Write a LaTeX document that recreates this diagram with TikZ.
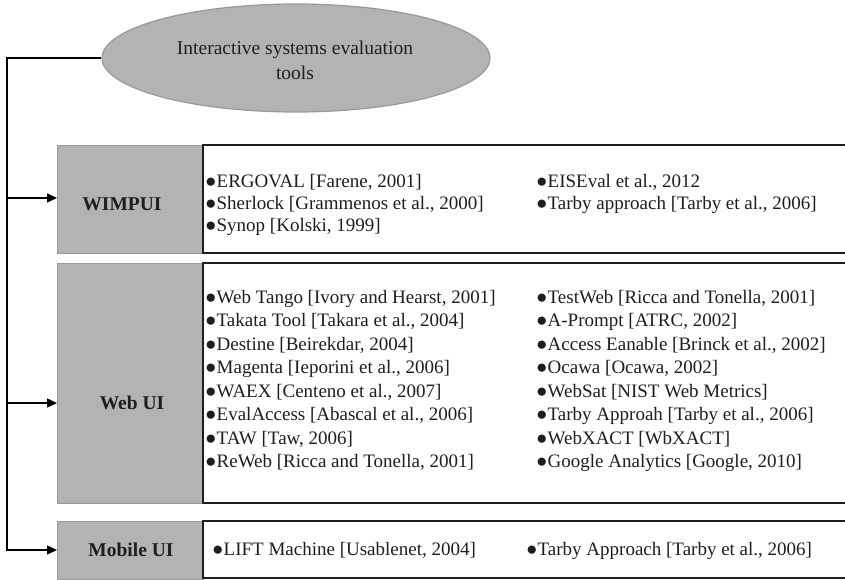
\documentclass[tikz,border=0pt]{standalone}
\usepackage{fontspec}
\setmainfont{Liberation Serif}
\usetikzlibrary{arrows.meta,shapes.geometric}
\definecolor{boxgray}{HTML}{B3B3B3}
\definecolor{edgegray}{HTML}{9A9A9A}
\definecolor{ink}{HTML}{1E1E1E}
\begin{document}
\begin{tikzpicture}[x=1pt,y=-1pt,
  item/.style={anchor=base west, inner sep=0pt, font=\fontsize{19}{22}\selectfont, text=ink},
  cat/.style={font=\fontsize{19.5}{22}\selectfont\bfseries, text=ink, inner sep=0pt},
  graybox/.style={draw=edgegray, fill=boxgray, line width=1.2pt, inner sep=0pt, anchor=north west},
  whitebox/.style={draw=ink, line width=1.6pt},
  conn/.style={draw=black, line width=1.5pt, line join=miter},
  tip/.style={-{Triangle[length=10pt,width=9pt]}}]
\useasboundingbox (0,0) rectangle (845,580);
\clip (0,0) rectangle (845,580);

% root ellipse
\node[ellipse, draw=edgegray, fill=boxgray, line width=1.2pt, minimum width=388pt, minimum height=108pt] (root) at (296,58) {};
\node[align=center, font=\fontsize{19.5}{25}\selectfont, text=ink, inner sep=0pt] (roottext) at (295,60) {Interactive systems evaluation\\tools};

% category boxes
\node[graybox, minimum width=146pt, minimum height=108pt] (wimp) at (57,145) {};
\node[graybox, minimum width=146pt, minimum height=240pt] (web) at (57,263) {};
\node[graybox, minimum width=146pt, minimum height=58pt] (mob) at (57,521) {};
\draw[whitebox] (203,145) rectangle (880,253);
\draw[whitebox] (203,263) rectangle (880,503);
\draw[whitebox] (203,521) rectangle (880,578);

\node[cat] (wimpl) at (122,204) {WIMPUI};
\node[cat] (webl) at (132,403) {Web UI};
\node[cat] (mobl) at (131,550) {Mobile UI};

% connectors
\coordinate (trunk) at (7,58);
\coordinate (aw) at (57,198);
\coordinate (aweb) at (57,403);
\coordinate (amob) at (57,550);
\draw[conn,tip] (root.west) -- (trunk) |- (amob);
\draw[conn,tip] (trunk |- aw) -- (aw);
\draw[conn,tip] (trunk |- aweb) -- (aweb);

% WIMPUI items
\foreach \t [count=\i] in {ERGOVAL [Farene{,} 2001], Sherlock [Grammenos et al.{,} 2000], Synop [Kolski{,} 1999]}
  \node[item] (wl\i) at (205,{181+22*(\i-1)+6}) {●\t};
\foreach \t [count=\i] in {EISEval et al.{,} 2012, Tarby approach [Tarby et al.{,} 2006]}
  \node[item] (wr\i) at (536,{181+22*(\i-1)+6}) {●\t};

% Web UI items
\foreach \t [count=\i] in {Web Tango [Ivory and Hearst{,} 2001], Takata Tool [Takara et al.{,} 2004], Destine [Beirekdar{,} 2004], Magenta [Ieporini et al.{,} 2006], WAEX [Centeno et al.{,} 2007], EvalAccess [Abascal et al.{,} 2006], TAW [Taw{,} 2006], ReWeb [Ricca and Tonella{,} 2001]}
  \node[item] (bl\i) at (205,{297+23.5*(\i-1)+6}) {●\t};
\foreach \t [count=\i] in {TestWeb [Ricca and Tonella{,} 2001], A-Prompt [ATRC{,} 2002], Access Eanable [Brinck et al.{,} 2002], Ocawa [Ocawa{,} 2002], WebSat [NIST Web Metrics], Tarby Approah [Tarby et al.{,} 2006], WebXACT [WbXACT], Google Analytics [Google{,} 2010]}
  \node[item] (br\i) at (536,{297+23.5*(\i-1)+6}) {●\t};

% Mobile UI items
\node[item] (ml1) at (212,555) {●LIFT Machine [Usablenet, 2004]};
\node[item] (mr1) at (526,555) {●Tarby Approach [Tarby et al., 2006]};
\end{tikzpicture}
\end{document}
